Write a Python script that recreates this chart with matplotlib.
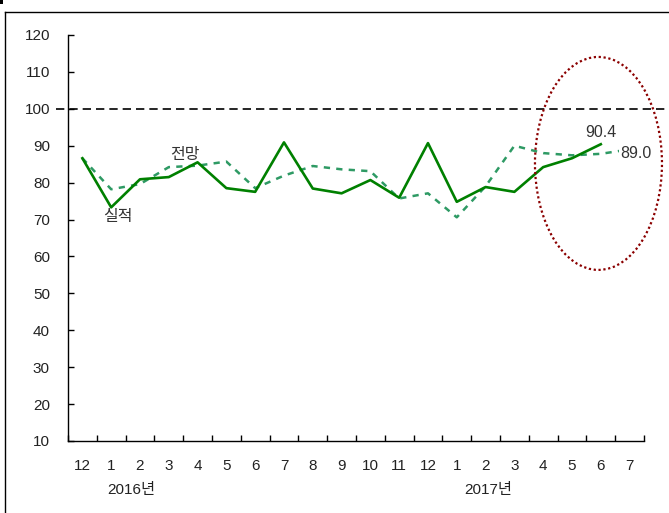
import numpy as np
import matplotlib.pyplot as plt
from matplotlib.patches import Ellipse, Rectangle
from matplotlib.lines import Line2D

plt.rcParams['font.family'] = ['Liberation Sans', 'Noto Sans CJK KR', 'DejaVu Sans']

# data
months = ['12', '1', '2', '3', '4', '5', '6', '7', '8', '9', '10', '11',
          '12', '1', '2', '3', '4', '5', '6', '7']
actual = [86.6, 73.3, 80.9, 81.5, 85.5, 78.5, 77.5, 90.9, 78.4, 77.1,
          80.7, 75.9, 90.7, 74.8, 78.8, 77.5, 84.2, 86.6, 90.4]
forecast = [86.6, 78.2, 79.6, 84.2, 84.6, 85.7, 78.5, 81.9, 84.5, 83.6,
            83.1, 75.7, 77.1, 70.6, 79.0, 90.0, 88.0, 87.4, 87.8, 89.0]
years = ['2016년', '2017년']
ref_level = 100

fig = plt.figure(figsize=(6.69, 5.13), dpi=100)
ax = fig.add_axes([0.1016, 0.1404, 0.8610, 0.7914])

x = np.arange(len(months))
ax.plot(x, forecast, color='#2E9A64', lw=1.8, ls=(0, (2.5, 2.5)), zorder=2)
ax.plot(x[:len(actual)], actual, color='#008000', lw=1.9, zorder=3)
ax.axhline(ref_level, xmin=-0.02, xmax=1.05, color='black', lw=1.2,
           ls=(0, (5, 3)), clip_on=False, zorder=1)

ax.set_xlim(-0.5, len(months) - 0.5)
ax.set_ylim(10, 120)
ax.set_yticks(range(10, 121, 10))
ax.set_xticks(x)
ax.set_xticklabels(months)
ax.set_xticks(np.arange(-0.5, len(months), 1), minor=True)
ax.tick_params(axis='x', which='major', length=0, pad=13, labelsize=11, labelcolor='#222222')
ax.tick_params(axis='x', which='minor', direction='in', length=4, width=1)
ax.tick_params(axis='y', direction='in', length=4, width=1, pad=13, labelsize=11, labelcolor='#222222')
for s in ['top', 'right']:
    ax.spines[s].set_visible(False)
for s in ['left', 'bottom']:
    ax.spines[s].set_linewidth(1.0)

# highlight ellipse
ell = Ellipse((17.92, 85.2), width=4.41, height=57.7, fill=False,
              edgecolor='#8B0000', lw=1.6, ls=(0, (1, 1.2)), clip_on=False, zorder=4)
ax.add_patch(ell)

# labels
ax.annotate(f'{actual[-1]:.1f}', (len(actual) - 1, actual[-1]), xytext=(0, 3),
            textcoords='offset points', ha='center', va='bottom', fontsize=11.5, color='#333333')
ax.annotate(f'{forecast[-1]:.1f}', (len(forecast) - 1, forecast[-1]), xytext=(-7, -3),
            textcoords='offset points', ha='left', va='center', fontsize=11.5, color='#333333',
            bbox=dict(facecolor='white', edgecolor='none', pad=0.5), zorder=5)
ax.text(3.56, 87.5, '전망', ha='center', va='center', fontsize=11.5, color='#333333')
ax.text(1.24, 70.7, '실적', ha='center', va='center', fontsize=11.5, color='#333333')

tr = ax.get_xaxis_transform()
ax.text(1.7, -0.12, years[0], transform=tr, ha='center', va='center', fontsize=11, color='#222222')
ax.text(14.1, -0.12, years[1], transform=tr, ha='center', va='center', fontsize=11, color='#222222')

# outer frame
fx = 5 / 669
fy = 1 - 12 / 513
fig.add_artist(Line2D([fx, fx], [0, fy], transform=fig.transFigure, color='black', lw=1))
fig.add_artist(Line2D([fx, 1], [fy, fy], transform=fig.transFigure, color='black', lw=1))
fig.add_artist(Rectangle((0, 1 - 4 / 513), 3 / 669, 4 / 513, transform=fig.transFigure,
                         facecolor='black', edgecolor='none'))

fig.savefig('out.png', dpi=100)
